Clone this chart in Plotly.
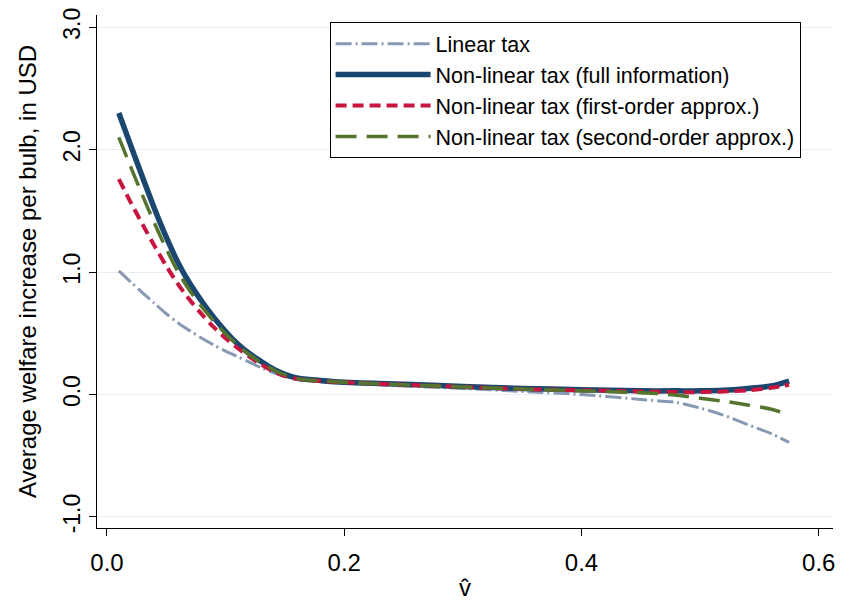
import plotly.graph_objects as go

# ---- data ----
v_hat = [0.010, 0.020, 0.030, 0.040, 0.050, 0.060, 0.070, 0.080, 0.090, 0.100,
         0.110, 0.120, 0.130, 0.140, 0.150, 0.160, 0.180, 0.200, 0.250, 0.300,
         0.350, 0.400, 0.450, 0.480, 0.500, 0.520, 0.540, 0.560, 0.575]

linear_tax = [1.01, 0.92, 0.83, 0.745, 0.66, 0.585, 0.52, 0.46, 0.405, 0.355,
              0.31, 0.265, 0.22, 0.18, 0.15, 0.125, 0.105, 0.095, 0.07, 0.05,
              0.025, 0.0, -0.04, -0.065, -0.11, -0.17, -0.245, -0.32, -0.39]

full_info = [2.30, 2.035, 1.775, 1.52, 1.285, 1.075, 0.905, 0.76, 0.63, 0.515,
             0.415, 0.335, 0.27, 0.21, 0.165, 0.135, 0.115, 0.10, 0.085, 0.065,
             0.05, 0.04, 0.03, 0.03, 0.03, 0.035, 0.05, 0.07, 0.11]

first_order = [1.76, 1.57, 1.39, 1.215, 1.05, 0.90, 0.77, 0.655, 0.55, 0.46,
               0.38, 0.31, 0.245, 0.19, 0.15, 0.128, 0.11, 0.10, 0.08, 0.062,
               0.045, 0.035, 0.025, 0.02, 0.02, 0.025, 0.035, 0.055, 0.08]

second_order = [2.10, 1.86, 1.625, 1.40, 1.19, 1.00, 0.845, 0.715, 0.60, 0.495,
                0.405, 0.325, 0.26, 0.205, 0.16, 0.13, 0.112, 0.10, 0.08, 0.062,
                0.045, 0.03, 0.015, -0.005, -0.03, -0.055, -0.085, -0.12, -0.165]

series_names = ["Linear tax",
                "Non-linear tax (full information)",
                "Non-linear tax (first-order approx.)",
                "Non-linear tax (second-order approx.)"]

y_ticks = [-1, 0, 1, 2, 3]
y_tick_text = ["-1.0", "0.0", "1.0", "2.0", "3.0"]
x_ticks = [0.0, 0.2, 0.4, 0.6]
x_tick_text = ["0.0", "0.2", "0.4", "0.6"]

FONT = "Arial, 'Liberation Sans', sans-serif"

fig = go.Figure()
styles = [
    (linear_tax, dict(color="#8799b3", width=3, dash="16px,4px,2px,4px")),
    (full_info, dict(color="#1a476f", width=5.5, dash="solid")),
    (first_order, dict(color="#c8153f", width=4, dash="11px,6px")),
    (second_order, dict(color="#55752f", width=3.5, dash="21px,10px")),
]
for name, (ys, ln) in zip(series_names, styles):
    fig.add_trace(go.Scatter(x=v_hat, y=ys, mode="lines", name=name,
                             line=dict(shape="spline", smoothing=0.8, **ln)))

fig.update_layout(
    width=841, height=603,
    margin=dict(l=97, r=6, t=15, b=73),
    paper_bgcolor="white", plot_bgcolor="white",
    font=dict(family=FONT, color="black", size=22),
    showlegend=True,
    legend=dict(x=0.316, y=0.986, xanchor="left", yanchor="top",
                bordercolor="black", borderwidth=1, bgcolor="white",
                font=dict(size=21.5), tracegroupgap=0, itemwidth=95),
    xaxis=dict(range=[-0.0084, 0.612], tickvals=x_ticks, ticktext=x_tick_text,
               showline=True, linecolor="black", linewidth=1,
               ticks="outside", ticklen=7, tickcolor="black",
               ticklabelstandoff=6,
               showgrid=False, zeroline=False, tickfont=dict(size=24),
               title=dict(text="v\u0302", font=dict(size=24), standoff=4)),
    yaxis=dict(range=[-1.09, 3.1], tickvals=y_ticks, ticktext=y_tick_text,
               showline=True, linecolor="black", linewidth=1,
               ticks="outside", ticklen=7, tickcolor="black", tickangle=-90,
               showgrid=True, gridcolor="#e6eef1", gridwidth=1,
               zeroline=False, tickfont=dict(size=23),
               title=dict(text="Average welfare increase per bulb, in USD",
                          font=dict(size=24), standoff=15)),
)

fig.write_html("out.html")
